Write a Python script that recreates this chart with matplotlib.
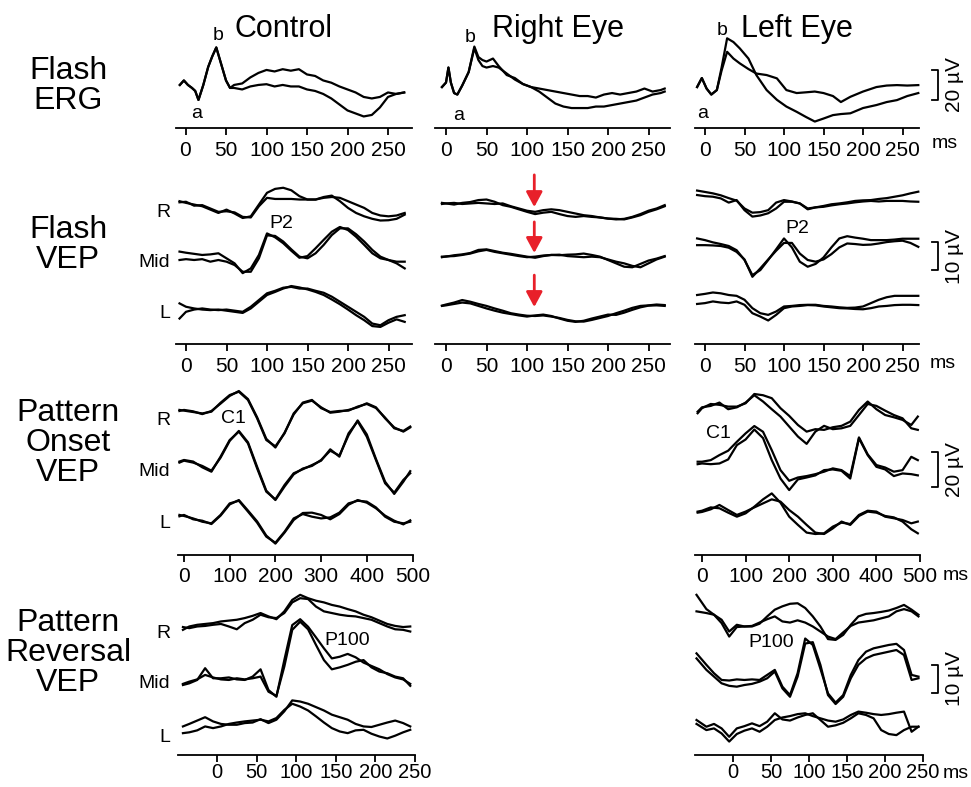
import numpy as np
import matplotlib.pyplot as plt
from matplotlib import transforms

plt.rcParams['font.family'] = ['Liberation Sans', 'DejaVu Sans']

# ---------------- data: time in ms, amplitude in uV ----------------
# Flash ERG
erg_ctrl_t = [-7, -2, 3, 8, 12, 16, 22, 28, 33, 38, 44, 50, 55, 60, 70, 80, 90, 100, 110,
              120, 130, 140, 150, 160, 170, 180, 190, 200, 210, 220, 230, 240, 250, 260, 270]
erg_ctrl_a = [0, 3, 0, -2, -4, -10, 0, 12, 19, 25, 14, 3, -2, 0, 1, 5, 8, 10, 9,
              10.5, 9.5, 10.5, 7, 6, 3, 1.5, -1, -3, -5, -8, -9, -8, -5, -6, -5]
erg_ctrl_b = [0, 3, 0, -2, -4, -10, 0, 12, 19, 25, 14, 3, -2, -2, -3, -1, 0, 0.5, -1,
              0, -1, -1, -3, -4, -6, -9, -13, -17, -19, -21, -20, -15, -8, -6, -5]

erg_re_t = [-5, 0, 3, 6, 10, 14, 20, 28, 35, 40, 45, 50, 58, 65, 75, 85, 95, 105, 115,
            125, 135, 145, 155, 165, 175, 185, 195, 205, 215, 225, 235, 245, 255, 265, 270]
erg_re_a = [0, 3, 13, 3, -4, -5, 1, 10, 27, 20, 18, 17, 19, 14, 8, 6, 2, 0, -1,
            -2, -3, -4, -5, -6, -6, -7, -5, -4, -5, -4, -3, -1, -3, -2, -1]
erg_re_b = [0, 3, 13, 3, -4, -5, 1, 10, 26, 18, 14, 13, 14, 13, 9, 5, 2, 0, -3,
            -7, -11, -13, -14, -14, -14, -13, -13, -12, -11, -10, -9, -7, -5, -4, -3]

erg_le_t = [-10, -4, 2, 8, 15, 21, 28, 36, 44, 55, 65, 78, 91, 103, 116, 128, 139, 150,
            162, 172, 184, 200, 217, 230, 243, 256, 270]
erg_le_a = [0, 6, -1, -5, -2, 13, 32.5, 30, 25.8, 19, 8, -2, -8.5, -13, -16.5, -20, -23, -21,
            -18.7, -18, -17.5, -14, -12, -10, -8.7, -6, -4]
erg_le_b = [0, 6, -1, -5, -2, 11, 23.5, 19, 15.8, 12, 9, 8, 5.8, -2, -4, -3.5, -3, -4,
            -6, -10, -6.5, -3, 0, 1, 1.3, 1, 1.3]

# Flash VEP (R, Mid, L channels, two runs each)
fvep_ctrl_t = [-8, 0, 10, 20, 30, 40, 50, 60, 70, 80, 90, 100, 110, 120, 130, 140, 150,
               160, 170, 180, 190, 200, 210, 220, 230, 240, 250, 260, 270]
fvep_ctrl_r_a = [0.6, 0, -0.6, -1.2, -2.4, -3.6, -2.4, -3.8, -5.4, -4.8, -0.6, 3.6, 5, 5.4, 4.5,
                 2.4, 1.2, 1.2, 1.8, 2.1, 1.8, 0.6, -0.6, -1.8, -3.6, -4.5, -4.8, -4.5, -3.6]
fvep_ctrl_r_b = [0.2, 0.4, -1.0, -0.8, -2.0, -3.2, -3.0, -3.4, -5.0, -5.2, -1.2, 1.8, 1.4, 1.4, 1.4,
                 1.2, 1.2, 1.2, 2.1, 2.6, 0.6, -1.8, -3.6, -4.8, -5.7, -6.3, -6.2, -5.7, -4.2]
fvep_ctrl_m_a = [1.2, 0.8, 0.4, 0, 0.2, 0.6, -1.2, -3, -6.5, -4.8, 0, 7.7, 6.3, 4.2, 1.5,
                 -1, -0.4, 2.4, 5.4, 8.3, 10, 8.9, 6.5, 3.6, 0.6, -1.2, -1.8, -2.4, -2.4]
fvep_ctrl_m_b = [-1.8, -1.5, -1.8, -1.5, -2.4, -1.8, -2.4, -3.6, -6, -6, -1.2, 7, 6.8, 4.8, 2,
                 -0.6, -1.2, 0.6, 3.6, 7.1, 9.5, 9.5, 7.4, 4.8, 1.8, -0.6, -1.8, -3, -4.8]
fvep_ctrl_l_a = [2.4, 1.2, 0.6, 0.2, 0, 0.2, -0.2, -0.6, -1, 0.6, 3, 5.4, 6.5, 7.7, 8.6,
                 8.1, 7.4, 6.5, 5.4, 3.8, 2.1, 0.2, -1.8, -3.6, -5.7, -6, -4.5, -3.3, -4.2]
fvep_ctrl_l_b = [-3, -0.6, 0.2, 0.6, 0.2, 0, 0.2, -0.2, -0.6, 1.2, 3.6, 6, 6.9, 8, 8.3,
                 7.7, 7.7, 6.9, 6.2, 4.8, 3, 1.2, -0.6, -2.4, -4.8, -5.4, -3.6, -2.4, -1.8]

fvep_re_t = [-5, 0, 10, 20, 30, 40, 50, 60, 70, 80, 90, 100, 110, 120, 130, 140, 150,
             160, 170, 180, 190, 200, 210, 220, 230, 240, 250, 260, 270]
fvep_re_r_a = [0.2, 0, -0.4, 0.2, 0.5, 1.2, 1.4, 0.6, -0.6, -1.2, -2.1, -3, -3.8, -3.3, -3,
               -3.8, -4.5, -4.8, -4.5, -4.8, -5, -5.4, -5.5, -5.7, -5, -4.2, -3, -2.1, -1]
fvep_re_r_b = [-0.2, 0, 0.2, -0.2, 0, 0.2, 0, -0.2, 0, -1, -1.8, -2.6, -3, -2.4, -2.1,
               -2.4, -3, -3.6, -4.2, -4.5, -5, -5.4, -5.7, -5.5, -4.8, -3.8, -2.6, -1.8, -0.6]
fvep_re_m_a = [0, 0, 0.5, 0.8, 1.3, 2.4, 2.6, 2, 1.4, 1, 0.5, 0, -0.4, 0.2, 0.6,
               0.5, 0.7, 0.8, 1.1, 0.6, 0, -1.2, -2.4, -3.6, -3.8, -2.6, -1.4, -0.7, 0.2]
fvep_re_m_b = [-0.2, 0.1, 0.2, 0.6, 1.1, 1.9, 2.4, 1.7, 1.2, 0.7, 0.2, -0.2, 0, 0.4, 0.6,
               0.7, 0.2, 0, -0.2, 0, -0.2, -1, -1.8, -2.4, -3.3, -3.8, -2.4, -1, 0]
fvep_re_l_a = [0, 0.4, 1.1, 2, 1.4, 0.6, -0.1, -1, -1.8, -2.7, -3.2, -3.6, -3.7, -3.5, -3.9,
               -4.4, -5.1, -5.6, -5.7, -5.1, -4.4, -3.7, -2.7, -1.8, -0.8, -0.1, 0.1, 0.4, 0.2]
fvep_re_l_b = [-0.1, 0.1, 0.6, 1.1, 0.8, -0.1, -1, -1.8, -2.5, -3, -3.5, -3.9, -3.5, -3.2, -3.7,
               -4.6, -5.4, -5.8, -5.4, -4.6, -3.9, -3.2, -3.3, -2.5, -1.5, -0.6, 0, 0.1, -0.1]

fvep_le_t = [-10, 0, 10, 20, 30, 40, 50, 60, 70, 80, 90, 100, 110, 120, 130, 140, 150,
             160, 170, 180, 190, 200, 210, 220, 230, 240, 250, 260, 270]
fvep_le_r_a = [1, 0.5, 0, -0.7, -1.7, -2.6, -5.4, -6.9, -6.7, -6, -3.3, -2.4, -2.9, -3.6, -5.7,
               -5, -4.5, -3.9, -3.6, -3.2, -2.7, -2.5, -2.4, -2, -1.7, -1.2, -0.7, 0, 0.6]
fvep_le_r_b = [-0.6, -1, -1.2, -1.8, -3.3, -2.4, -6, -8.3, -7.9, -7.1, -5.4, -3, -3, -3.6, -5.4,
               -5, -4.8, -4.3, -3.9, -3.6, -3.2, -2.9, -2.7, -2.9, -2.7, -2.7, -2.7, -2.9, -3]
fvep_le_m_a = [1.2, 0.6, -0.2, -0.8, -1.5, -3, -6.5, -11.9, -10.1, -6.5, -2.7, 1.2, -2, -7.1, -8.9,
               -7.9, -5.6, -2, 1.2, 2, 1.5, 1.1, 0.6, 0.6, 0.6, 0.8, 1.1, 1.1, 1.1]
fvep_le_m_b = [-1.2, -1.2, -1.3, -1.5, -2.1, -3.6, -6.3, -12.5, -9.5, -6.3, -3.2, -0.4, -0.4, -4.2, -6.5,
               -7.1, -6.3, -4.4, -2, -0.6, -0.8, -1.1, -1, -0.6, -0.1, 0.2, 0.4, -0.4, -1.8]
fvep_le_l_a = [1.5, 1.9, 2.4, 2.1, 1.5, 1.2, -0.2, -3.2, -5, -5.6, -4.4, -2.6, -2.4, -2.1, -2,
               -2, -2.4, -2.6, -2.9, -3.1, -3, -2.6, -1.4, -0.2, 0.7, 1.2, 1.2, 1.2, 1.2]
fvep_le_l_b = [-1.7, -1.4, -0.8, -1.2, -1.4, -0.8, -2, -5, -6.2, -7.6, -5.6, -3.2, -2.6, -2.4, -2.1,
               -2.2, -2.6, -2.9, -3.2, -3.3, -3.5, -3.6, -3.2, -2.6, -2.4, -2.1, -2, -2, -2.1]

# Pattern onset VEP
ponset_t = [-10, 0, 20, 40, 60, 80, 100, 120, 140, 160, 180, 200, 220, 240,
            260, 280, 300, 320, 340, 360, 380, 400, 420, 440, 460, 480, 495]
ponset_ctrl_r_a = [1, 0.6, -0.2, -1, 0, 5.1, 9.5, 11.4, 6.7, -3.8, -16.2, -19.8, -12.4, -1,
                   4.8, 6.3, 2.5, -0.6, 0, 1, 2.5, 4.8, 2.5, -3.8, -9, -11.4, -9]
ponset_ctrl_r_b = [0.4, 1, 0.2, -1.4, 0.4, 4.6, 9, 11.8, 7.2, -3.2, -15.5, -20.5, -12, -1.6,
                   5.2, 6.7, 2, -0.2, 0.4, 0.6, 2.9, 4.4, 2.1, -3.4, -9.5, -11, -8.5]
ponset_ctrl_m_a = [1, 1.9, 1, -2.3, -4.8, 3.8, 13.3, 18.1, 11.4, -2.9, -16.2, -20.6, -12.4, -5.7,
                   -3.4, -1, 1.5, 8, 3.8, 17.1, 24, 15.2, 1.9, -11.4, -16.8, -9.5, -5.7]
ponset_ctrl_m_b = [0.4, 1.5, 0.4, -1.5, -4.2, 3.2, 12.8, 18.5, 12, -2, -15.6, -21, -13.3, -6.3,
                   -3, -1.5, 1.9, 7.2, 4.4, 16, 24.5, 16.5, 2.5, -10.5, -17.5, -10.5, -4.5]
ponset_ctrl_l_a = [1, 0.4, -1, -2.9, -3.8, 1, 7.6, 9.1, 2.9, -3.4, -11.4, -14.9, -8.6, -1,
                   1.5, 0, -1, -0.4, 2.3, 7.6, 9.1, 8.6, 5.3, 0, -2.9, -3.8, -2.9]
ponset_ctrl_l_b = [0.2, 1, -1.5, -2.3, -4.2, 0.6, 7, 9.5, 3.5, -2.7, -10.8, -15.4, -9.1, -1.9,
                   2.1, 2.3, 1, -1.5, 1.5, 6.8, 9.5, 8, 4.8, 0.6, -2.3, -4.4, -2.1]

ponset_le_r_a = [-1.9, 1, 3.4, 2.9, 1.9, 1.9, 3.8, 9.1, 8.4, 6.7, 1, -3.4, -8.6, -12.4,
                 -11, -11.4, -9.9, -9.1, -6.7, 0, 4.8, 0.4, -2.9, -4.2, -5.7, -8.6, -3.8]
ponset_le_r_b = [-1, 1.5, 2.3, 4.2, 0.4, 1.5, 4.2, 8.4, 4.8, 0.4, -3.8, -9.5, -15.2, -19.4,
                 -12.4, -9.1, -11, -10.5, -9.1, -2.9, 3.4, 2.3, -0.4, -2.9, -4.8, -10.5, -11.4]
ponset_le_m_a = [0.6, 0.6, 1.5, 4.4, 6.9, 12, 16.8, 21, 17.7, 7.2, -4.2, -10.3, -8.4, -7.6,
                 -6.5, -5.1, -3.2, -4.2, -7.6, 14.5, 4.8, -1.3, -2.7, -5.1, -4.2, 3.4, 1.5]
ponset_le_m_b = [-0.8, -0.4, -0.8, -0.4, 1.9, 10.1, 13.3, 19, 14.1, 1.5, -9, -15.6, -9.5, -8.4,
                 -7.2, -4.2, -3.8, -4.6, -9, 14, 4.4, -2.3, -3.8, -7.6, -6.1, -6.5, -7.2]
ponset_le_l_a = [0.6, 1.1, 3, 2.5, 0, -2.3, -0.4, 3.4, 7.6, 11, 5.7, -2.3, -7, -11.4,
                 -12.2, -11.8, -8, -5.7, -6.5, -1.3, 1.1, 0.6, -2.3, -3.2, -4.2, -6.1, -5.1]
ponset_le_l_b = [0, 0.4, 1.9, 4.4, 1.5, -1.3, 0.6, 3, 5.3, 7.6, 6.3, 1.5, -2.3, -7,
                 -11.4, -12.2, -9, -5.1, -7, -1.9, 0.6, 0, -1.9, -2.7, -5.1, -9.5, -11.8]

# Pattern reversal VEP
prev_ctrl_t = [-43, -35, -25, -15, -5, 5, 15, 25, 35, 45, 55, 65, 75, 85, 95,
               105, 115, 125, 135, 145, 155, 165, 175, 185, 195, 205, 215, 225, 235, 244]
prev_ctrl_r_a = [-0.6, 0.6, 1.2, 1.5, 1.8, 2.4, 2.7, 3, 3.6, 4.4, 5.4, 4.2, 3.2, 6, 10.1,
                 11.9, 10.7, 9.8, 9.2, 8.3, 7.7, 6.8, 6, 4.8, 3.9, 2.7, 1.5, 0.8, 0.4, 0.6]
prev_ctrl_r_b = [0.4, 0, 0.6, 0.8, 1.2, 1.5, 0.6, -0.4, 1.8, 3, 4.8, 3.9, 3.6, 5.4, 9.2,
                 10.7, 10.4, 7.7, 6, 5.4, 4.8, 4.4, 4.2, 3.6, 3, 1.8, 0.6, -0.4, -0.6, -1.2]
prev_ctrl_m_a = [-1.2, -0.6, 0.6, 4.8, 1.2, 1.2, 1.5, 0.8, 0.6, 1.8, 4.4, -3, -5.4, 7.7, 20.2,
                 22.3, 19.6, 15.8, 11.9, 8.3, 8.9, 9.9, 8.7, 6.8, 5.6, 4.4, 2.7, 1.5, 0.8, -0.8]
prev_ctrl_m_b = [-0.8, 0, 0.8, 2.4, 1.5, 0.8, 0.6, 1.2, 0.8, 1.2, 1.8, -3.6, -5.1, 5.4, 18.5,
                 21.4, 18.7, 13.1, 7.7, 4.4, 5.1, 6, 7.1, 7.7, 5.1, 3.6, 3, 1.8, 1.2, -1.5]
prev_ctrl_l_a = [0.6, 1.5, 2.7, 3.9, 2.4, 1.5, 1.2, 1.2, 1.8, 2, 3.2, 1.8, 3, 6, 9.9,
                 9.5, 8.7, 7.5, 6.3, 4.8, 3.9, 3, 1.5, 0.6, 0.4, 1.2, 2, 2.7, 1.8, 0.6]
prev_ctrl_l_b = [-1.8, -1.5, -0.8, 0.6, 0, 0.6, 1.5, 2, 2.4, 2.7, 3, 2.4, 3.6, 6.5, 8.7,
                 7.7, 6.3, 4.2, 2, 0, -1.2, -1.8, -0.8, -0.6, -2, -3, -3.7, -2.7, -1.5, -0.6]

prev_le_t = [-48, -35, -25, -15, -5, 5, 15, 25, 35, 45, 55, 65, 75, 85, 95,
             105, 115, 125, 135, 145, 155, 165, 175, 185, 195, 205, 215, 225, 235, 244]
prev_le_r_a = [10.1, 5, 3, 0, -4.8, -1.4, -1.2, -1.2, -0.2, 2.4, 4.8, 6, 6.9, 7.1, 5.4,
               2.4, -1.2, -5.7, -6, -4.2, -0.6, 2.4, 3.3, 3.6, 4, 4.5, 5.4, 6.5, 4.8, 3]
prev_le_r_b = [4.2, 3.6, 3, 1.2, -3, -0.6, -1.2, -1, 0.2, 1.4, 2.4, 0.6, 0.2, 1, 0.2,
               -1.2, -3, -4.8, -5.7, -3.3, -1, 0.2, 0.6, 1, 1.7, 2.4, 4.2, 5, 4.2, 2.4]
prev_le_m_a = [9.5, 5.4, 2.4, 0, -0.2, 0.2, 0, 0.2, 0, 1.8, 3.6, -2.4, -5.4, 2.4, 14.8,
               12.5, 4, -4.8, -8.1, -5.4, 1.8, 7.1, 10.1, 11.3, 11.9, 12.5, 12.9, 10.7, 1.8, 1.2]
prev_le_m_b = [7.7, 3.6, 1.2, -1.2, -2.1, -2.4, -1.8, -1.4, -0.6, 0.6, 3, -3, -6, 1.2, 13,
               13.5, 5.4, -5.4, -8.6, -6, 0.6, 5.4, 7.7, 8.9, 9.5, 10.1, 10.7, 8.9, 0, 0.6]
prev_le_l_a = [1.2, -1.2, -0.2, -1.8, -4.8, -1.8, -1, 0, -1, 0.6, 3.6, 1.4, 1, 2.1, 3,
               3.6, 1.2, -1.2, -0.7, 0.2, 1.8, 3.6, 3, 1.8, -2.4, -3.8, -4.2, -2.4, -1.2, -1.2]
prev_le_l_b = [-0.2, -2.4, -1.8, -3.6, -6.5, -3.8, -2.6, -1.8, -3, -1.2, 1.2, 2.1, 2.6, 3.3, 3.6,
               2.6, 1.8, 1, 0.6, 1.4, 3, 4.2, 3.8, 3.3, 3, 3.3, 3.8, 4.2, -3, -1.2]

scale_uv = [20, 10, 20, 10]
col_titles = ['Control', 'Right Eye', 'Left Eye']
row_titles = ['Flash\nERG', 'Flash\nVEP', 'Pattern\nOnset\nVEP', 'Pattern\nReversal\nVEP']
channels = ['R', 'Mid', 'L']

# ---------------- layout (pixels) ----------------
W, H = 971, 787
fig = plt.figure(figsize=(W / 100, H / 100), dpi=100)

# y_top, y_axis, px per uV, ticks, tick label pad / size
rows = [
    dict(top=35, axis=128, ppu=1.5, ticks=np.arange(0, 251, 50), pad=4, size=15),
    dict(top=170, axis=344, ppu=2.8, ticks=np.arange(0, 251, 50), pad=4, size=15),
    dict(top=380, axis=555, ppu=1.75, ticks=np.arange(0, 501, 100), pad=4, size=15),
    dict(top=585, axis=755, ppu=2.8, ticks=np.arange(0, 251, 50), pad=1, size=14.5),
]

# row, x0, x1, x of t=0, px per ms, time, [(offset_uV, run a, run b), ...]
panels = [
    (0, 176, 412, 185.5, 0.81, erg_ctrl_t, [(28.7, erg_ctrl_a, erg_ctrl_b)]),
    (0, 435, 670, 446, 0.81, erg_re_t, [(27.3, erg_re_a, erg_re_b)]),
    (0, 695, 919, 705, 0.79, erg_le_t, [(27.3, erg_le_a, erg_le_b)]),
    (1, 176, 412, 186, 0.81, fvep_ctrl_t, [(50.4, fvep_ctrl_r_a, fvep_ctrl_r_b),
                                           (31.8, fvep_ctrl_m_a, fvep_ctrl_m_b),
                                           (12.1, fvep_ctrl_l_a, fvep_ctrl_l_b)]),
    (1, 435, 670, 446, 0.81, fvep_re_t, [(50.2, fvep_re_r_a, fvep_re_r_b),
                                         (31.2, fvep_re_m_a, fvep_re_m_b),
                                         (13.7, fvep_re_l_a, fvep_re_l_b)]),
    (1, 695, 919, 705, 0.79, fvep_le_t, [(53.8, fvep_le_r_a, fvep_le_r_b),
                                         (36.5, fvep_le_m_a, fvep_le_m_b),
                                         (16.0, fvep_le_l_a, fvep_le_l_b)]),
    (2, 178, 413, 184, 0.457, ponset_t, [(81.9, ponset_ctrl_r_a, ponset_ctrl_r_b),
                                         (52.4, ponset_ctrl_m_a, ponset_ctrl_m_b),
                                         (21.9, ponset_ctrl_l_a, ponset_ctrl_l_b)]),
    (2, 695, 920, 702, 0.436, ponset_t, [(82.9, ponset_le_r_a, ponset_le_r_b),
                                         (52.7, ponset_le_m_a, ponset_le_m_b),
                                         (24.2, ponset_le_l_a, ponset_le_l_b)]),
    (3, 178, 415, 217, 0.792, prev_ctrl_t, [(45.3, prev_ctrl_r_a, prev_ctrl_r_b),
                                            (26.2, prev_ctrl_m_a, prev_ctrl_m_b),
                                            (9.6, prev_ctrl_l_a, prev_ctrl_l_b)]),
    (3, 695, 923, 733, 0.76, prev_le_t, [(47.1, prev_le_r_a, prev_le_r_b),
                                         (26.8, prev_le_m_a, prev_le_m_b),
                                         (11.3, prev_le_l_a, prev_le_l_b)]),
]


def ftext(x, y, s, **kw):
    fig.text(x / W, 1 - y / H, s, **kw)


right_axes = {}
for row, x0, x1, zero, pxms, t, traces in panels:
    r = rows[row]
    ax = fig.add_axes([x0 / W, 1 - r['axis'] / H, (x1 - x0) / W, (r['axis'] - r['top']) / H])
    ax.set_xlim((x0 - zero) / pxms, (x1 - zero) / pxms)
    ax.set_ylim(0, (r['axis'] - r['top']) / r['ppu'])
    for off, a, b in traces:
        ax.plot(t, np.array(a) + off, color='black', lw=1.6, clip_on=False)
        ax.plot(t, np.array(b) + off, color='black', lw=1.6, clip_on=False)
    for s in ['left', 'top', 'right']:
        ax.spines[s].set_visible(False)
    ax.spines['bottom'].set_linewidth(1.3)
    ax.set_yticks([])
    ax.set_xticks(r['ticks'])
    ax.tick_params(axis='x', direction='out', length=5, width=1.3,
                   pad=r['pad'], labelsize=r['size'])
    ax.patch.set_alpha(0)
    if x0 > 680:
        right_axes[row] = ax
    if row == 1 and 400 < x0 < 500:
        # red arrows, right eye flash VEP
        for y_from, y_to in [(60.4, 48.9), (43.6, 32.5), (24.6, 13.2)]:
            ax.annotate('', xy=(109, y_to), xytext=(109, y_from),
                        arrowprops=dict(arrowstyle='-|>,head_length=0.65,head_width=0.35',
                                        color='#e8202a', lw=2, shrinkA=0, shrinkB=0,
                                        mutation_scale=14))

# scale bars
bar_bottom = [18.7, 26.4, 38.9, 22.2]
for row, ax in right_axes.items():
    tr = transforms.blended_transform_factory(fig.transFigure, ax.transData)
    y0, L = bar_bottom[row], scale_uv[row]
    ax.plot([932 / W, 938 / W, 938 / W, 932 / W], [y0, y0, y0 + L, y0 + L],
            transform=tr, color='black', lw=1.3, clip_on=False)
    ax.text(954 / W, y0 + L / 2, f'{L} \u00b5V', transform=tr, rotation=90,
            ha='center', va='center', fontsize=15)

# "ms" units
for x, y in [(932, 144), (930, 363), (943, 575), (943, 774)]:
    ftext(x, y, 'ms', fontsize=14, ha='left', va='center')

# column titles
for x, s in zip([284, 558, 797], col_titles):
    ftext(x, 37, s, fontsize=22, ha='center', va='baseline')

# row titles
for y, s in zip([86, 245, 443, 653], row_titles):
    ftext(68, y, s, fontsize=23, ha='center', va='center', linespacing=1.0)

# channel labels
for base in [(217, 267, 318), (425, 476, 528), (638, 688, 742)]:
    for y, s in zip(base, channels):
        ftext(170, y, s, fontsize=14, ha='right', va='baseline')

# component labels
for x, y, s in [(218, 40, 'b'), (197, 118, 'a'), (470, 42, 'b'), (459, 120, 'a'),
                (722, 35, 'b'), (703, 118, 'a'),
                (281, 228, 'P2'), (797, 233, 'P2'), (233, 423, 'C1'), (718, 438, 'C1'),
                (347, 645, 'P100'), (771, 647, 'P100')]:
    ftext(x, y, s, fontsize=14, ha='center', va='baseline')

fig.savefig('out.png', dpi=100)
